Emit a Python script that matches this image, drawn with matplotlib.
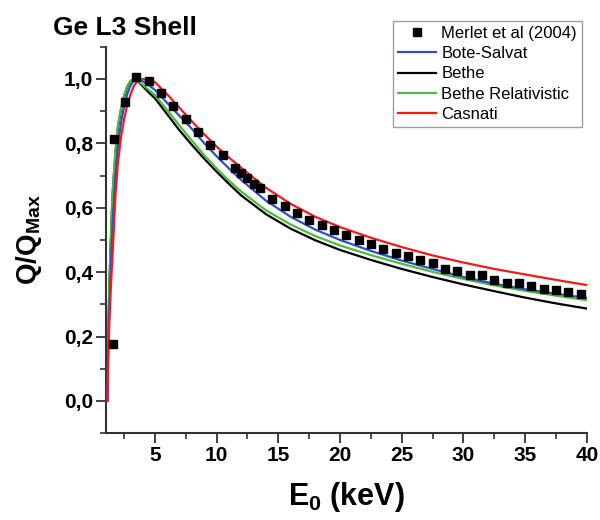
import matplotlib
matplotlib.use("Agg")
import matplotlib.pyplot as plt
from matplotlib.ticker import MultipleLocator, FuncFormatter

plt.rcParams["font.family"] = ["Liberation Sans", "DejaVu Sans"]
plt.rcParams["mathtext.fontset"] = "custom"
plt.rcParams["mathtext.rm"] = "Liberation Sans:bold"
plt.rcParams["mathtext.bf"] = "Liberation Sans:bold"
plt.rcParams["mathtext.it"] = "Liberation Sans:bold"

# Experimental cross sections (Merlet et al 2004), normalised to maximum
merlet_e = [1.6, 1.7, 2.6, 3.5, 4.5, 5.5, 6.5, 7.5, 8.5, 9.5, 10.5, 11.5, 12.0,
            12.5, 13.0, 13.5, 14.5, 15.5, 16.5, 17.5, 18.5, 19.5, 20.5, 21.5,
            22.5, 23.5, 24.5, 25.5, 26.5, 27.5, 28.5, 29.5, 30.5, 31.5, 32.5,
            33.5, 34.5, 35.5, 36.5, 37.5, 38.5, 39.5]
merlet_q = [0.176, 0.813, 0.93, 1.005, 0.995, 0.956, 0.917, 0.875, 0.834, 0.795,
            0.764, 0.723, 0.708, 0.692, 0.675, 0.661, 0.627, 0.604, 0.583, 0.561,
            0.547, 0.532, 0.516, 0.501, 0.488, 0.472, 0.46, 0.449, 0.439, 0.427,
            0.41, 0.403, 0.39, 0.39, 0.375, 0.367, 0.365, 0.357, 0.348, 0.344,
            0.338, 0.331]

# Model curves on a common energy grid (keV)
energy = [1.15, 1.2, 1.3, 1.4, 1.5, 1.6, 1.8, 2.0, 2.25, 2.5, 2.75, 3.0, 3.25,
          3.5, 3.75, 4.0, 4.5, 5, 6, 7, 8, 9, 10, 11, 12, 14, 16, 18, 20, 22.5,
          25, 27.5, 30, 32.5, 35, 37.5, 40]

bote_salvat = [0.0, 0.14, 0.29, 0.40, 0.49, 0.57, 0.70, 0.79, 0.865, 0.915,
               0.952, 0.978, 0.993, 1.0, 0.998, 0.993, 0.981, 0.966, 0.925,
               0.885, 0.845, 0.80, 0.76, 0.722, 0.686, 0.622, 0.572, 0.532,
               0.50, 0.466, 0.436, 0.41, 0.385, 0.364, 0.347, 0.333, 0.32]

bethe = [0.0, 0.17, 0.35, 0.47, 0.58, 0.66, 0.77, 0.85, 0.905, 0.945, 0.975,
         0.992, 1.0, 0.996, 0.988, 0.978, 0.958, 0.94, 0.89, 0.84, 0.795,
         0.752, 0.712, 0.674, 0.638, 0.58, 0.535, 0.499, 0.469, 0.438, 0.41,
         0.385, 0.362, 0.341, 0.321, 0.303, 0.287]

bethe_rel = [0.0, 0.18, 0.36, 0.48, 0.59, 0.67, 0.78, 0.855, 0.91, 0.95, 0.977,
             0.993, 1.0, 0.997, 0.99, 0.982, 0.966, 0.95, 0.903, 0.855, 0.808,
             0.763, 0.722, 0.684, 0.65, 0.592, 0.548, 0.512, 0.483, 0.453, 0.426,
             0.401, 0.379, 0.359, 0.342, 0.327, 0.313]

casnati = [0.0, 0.12, 0.24, 0.33, 0.41, 0.48, 0.64, 0.74, 0.82, 0.875, 0.918,
           0.95, 0.975, 0.99, 0.998, 1.0, 0.997, 0.99, 0.952, 0.91, 0.868,
           0.828, 0.79, 0.756, 0.724, 0.662, 0.612, 0.572, 0.54, 0.507, 0.478,
           0.452, 0.43, 0.41, 0.393, 0.376, 0.36]

x_ticks = [5, 10, 15, 20, 25, 30, 35, 40]
y_ticks = [0.0, 0.2, 0.4, 0.6, 0.8, 1.0]

fig = plt.figure(figsize=(6.0, 5.2), dpi=100)
ax = fig.add_axes([0.176, 0.167, 0.802, 0.743])

lw = 1.6
ax.plot(energy, bote_salvat, color="#2f4fc8", lw=lw, label="Bote-Salvat", zorder=3)
ax.plot(energy, bethe, color="black", lw=lw, label="Bethe", zorder=2)
ax.plot(energy, bethe_rel, color="#4cbc3a", lw=lw, label="Bethe Relativistic", zorder=2.5)
ax.plot(energy, casnati, color="#f21a1a", lw=lw, label="Casnati", zorder=4)
ax.plot(merlet_e, merlet_q, ls="none", marker="s", ms=5.8, color="black",
        label="Merlet et al (2004)", zorder=5)

ax.set_xlim(1, 40)
ax.set_ylim(-0.1, 1.1)
ax.set_xticks(x_ticks)
ax.set_yticks(y_ticks)
ax.xaxis.set_minor_locator(MultipleLocator(2.5))
ax.yaxis.set_minor_locator(MultipleLocator(0.1))
ax.yaxis.set_major_formatter(FuncFormatter(lambda v, p: f"{v:.1f}".replace(".", ",")))

for side in ("top", "right"):
    ax.spines[side].set_visible(False)
for side in ("left", "bottom"):
    ax.spines[side].set_linewidth(1.5)
    ax.spines[side].set_color("#333333")

ax.tick_params(which="major", direction="out", length=7, width=1.3,
               color="#333333", labelsize=15, pad=2)
ax.tick_params(which="minor", direction="out", length=4, width=1.2,
               color="#333333")
for lab in ax.get_xticklabels() + ax.get_yticklabels():
    lab.set_fontweight("bold")

ax.set_xlabel(r"E$_0$ (keV)", fontsize=22, fontweight="bold", labelpad=11)
ax.set_ylabel(r"Q/Q$_{\mathrm{Max}}$", fontsize=20, fontweight="bold", labelpad=14)

fig.text(0.088, 1 - 35 / 520, "Ge L3 Shell", fontsize=19, fontweight="bold",
         va="baseline", ha="left")

handles, labels = ax.get_legend_handles_labels()
order = [4, 0, 1, 2, 3]
leg = fig.legend([handles[i] for i in order], [labels[i] for i in order],
                 loc="upper right", bbox_to_anchor=(0.97, 0.96),
                 fontsize=12, frameon=True, fancybox=False, numpoints=1,
                 handlelength=2.3, handletextpad=0.3, labelspacing=0.32,
                 borderpad=0.3, borderaxespad=0)
leg.get_frame().set_edgecolor("#888888")
leg.get_frame().set_linewidth(1.0)

fig.savefig("out.png", dpi=100)
